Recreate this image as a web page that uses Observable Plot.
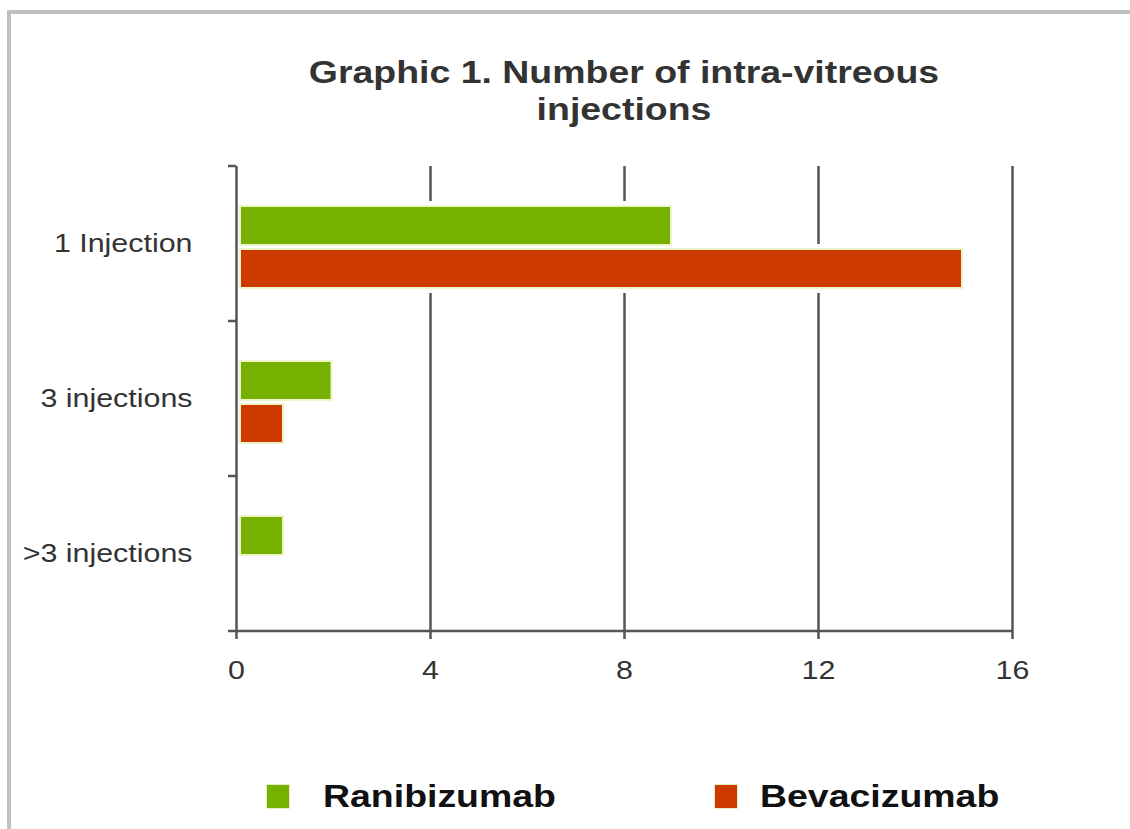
<!DOCTYPE html>
<html><head><meta charset="utf-8">
<script src="https://cdn.jsdelivr.net/npm/d3@7"></script>
<script src="https://cdn.jsdelivr.net/npm/@observablehq/plot@0.6"></script>
<style>
body{margin:0;background:#fff;font-family:"Liberation Sans",Arial,sans-serif;}
#page{position:relative;width:1130px;height:829px;overflow:hidden;background:#fff;}
#border{position:absolute;left:7px;top:10px;width:1200px;height:900px;border-left:4px solid #c0c0c0;border-top:4px solid #c0c0c0;}
#title{position:absolute;left:236px;width:776px;top:54px;text-align:center;font-weight:bold;font-size:32px;line-height:37px;color:#333;transform:scaleX(1.17);transform-origin:50% 50%;}
#chart{position:absolute;left:0;top:150px;}
.item{position:absolute;top:776px;display:flex;align-items:center;font-weight:bold;font-size:32px;color:#111;height:40px;}
.sw{width:24px;height:25px;box-sizing:border-box;}
.lbl{display:inline-block;transform:scaleX(1.17);transform-origin:0 50%;}
</style></head>
<body>
<div id="page">
  <div id="border"></div>
  <div id="title">Graphic 1. Number of intra-vitreous<br>injections</div>
  <div id="chart"></div>
  <div id="legend"></div>
</div>
<script>
const categories = ["1 Injection", "3 injections", ">3 injections"];
const series = ["Ranibizumab", "Bevacizumab"];
const ranibizumab = [9, 2, 1];
const bevacizumab = [15, 1, 0];
const xTicks = [0, 4, 8, 12, 16];
const colors = ["#76b000", "#cc3a00"];

const values = {Ranibizumab: ranibizumab, Bevacizumab: bevacizumab};
const table = [];
categories.forEach((c, i) => series.forEach(s => table.push({category: c, series: s, value: values[s][i]})));

const axisColor = "#555";
const barOpts = {filter: d => d.value > 0, x: "value", y: "series", fy: "category", insetLeft: 4, insetRight: 1.5};
const plot = Plot.plot({
  width: 1130, height: 552,
  marginLeft: 236, marginRight: 118, marginTop: 15, marginBottom: 70,
  style: {fontFamily: "Liberation Sans, Arial, sans-serif", background: "transparent"},
  x: {domain: [0, 16]},
  fy: {domain: categories, padding: 0, label: null},
  y: {domain: series, paddingInner: 0.1, paddingOuter: 0.85, align: 0.55, axis: null},
  color: {domain: series, range: colors},
  marks: [
    Plot.ruleX(xTicks.slice(1), {stroke: axisColor, strokeWidth: 2.5}),
    Plot.barX(table, {...barOpts, fill: "white", stroke: "white", strokeWidth: 10}),
    Plot.barX(table, {...barOpts, fill: "series", stroke: "#eef4c8", strokeWidth: 2}),
    Plot.ruleX([0], {stroke: axisColor, strokeWidth: 2.5}),
    Plot.axisX({ticks: xTicks, tickSize: 8, tickPadding: 21, fontSize: 26, stroke: axisColor, strokeWidth: 2.5, fill: "#333", label: null}),
    Plot.axisFy({anchor: "left", tickSize: 0, tickPadding: 44, fontSize: 26, fill: "#333", label: null})
  ]
});

// axis line at bottom and boundary ticks on the category axis, from the plot's own scales
const xs = plot.scale("x"), fys = plot.scale("fy");
const svg = d3.select(plot);
const x0 = xs.apply(0), x1 = xs.apply(16);
const bounds = categories.map(c => fys.apply(c));
bounds.push(fys.apply(categories[categories.length - 1]) + fys.bandwidth);
const g = svg.append("g").attr("stroke", axisColor).attr("stroke-width", 2.5);
bounds.forEach(b => g.append("line").attr("x1", x0 - 8).attr("x2", x0).attr("y1", b).attr("y2", b));
g.append("line").attr("x1", x0).attr("x2", x1).attr("y1", bounds[bounds.length - 1]).attr("y2", bounds[bounds.length - 1]);
// the reference's lettering is horizontally wide: stretch axis texts about their anchor
svg.selectAll("g[aria-label$='tick label'] text").attr("transform", function () {
  return (this.getAttribute("transform") || "") + " scale(1.17,1)";
});
document.getElementById("chart").appendChild(plot);

// legend
const legendX = [266, 714];
const legendGap = [33, 22];
const legend = document.getElementById("legend");
series.forEach((s, i) => {
  const item = document.createElement("div");
  item.className = "item";
  item.style.left = legendX[i] + "px";
  item.innerHTML = `<div class="sw" style="background:${colors[i]};border:1px solid #e8eec0"></div><span class="lbl" style="margin-left:${legendGap[i]}px">${s}</span>`;
  legend.appendChild(item);
});
</script>
</body></html>
